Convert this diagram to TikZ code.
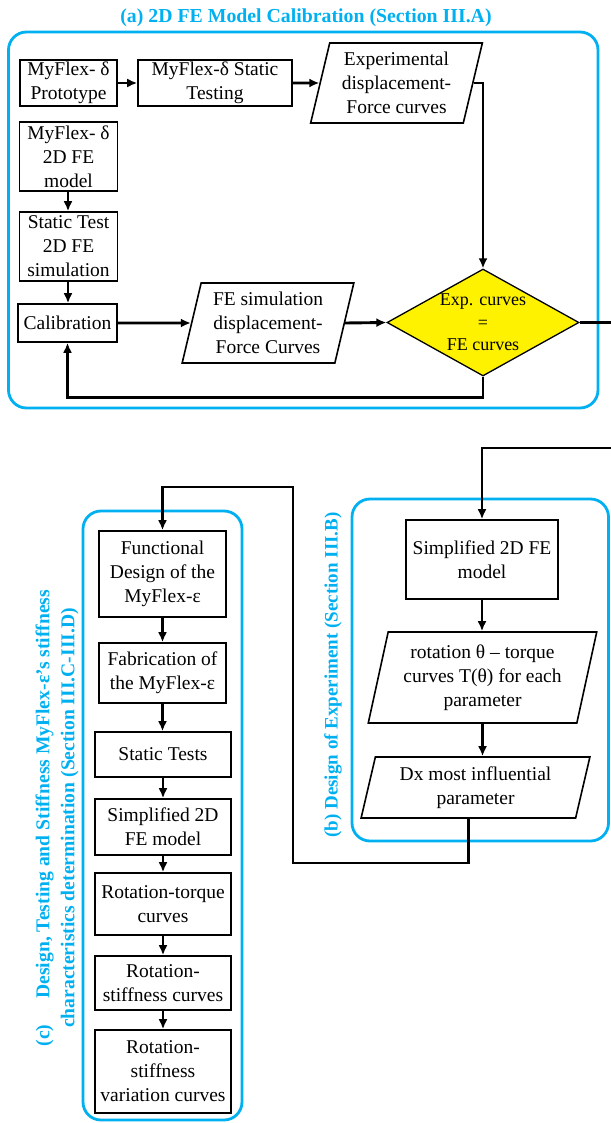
\documentclass[tikz,border=0pt]{standalone}
\usepackage{fontspec}
\setmainfont{Liberation Serif}
\usetikzlibrary{arrows.meta,shapes.geometric,positioning}
\tikzset{>={Latex[length=10pt,width=9pt]}}
\definecolor{secblue}{RGB}{0,176,240}
\newcommand{\boxfont}{\fontsize{19.5}{24}\selectfont}
\newcommand{\headfont}{\fontsize{19}{25}\selectfont\bfseries}
\tikzset{
  blk/.style={draw, line width=1.6pt, align=center, inner sep=1pt, font=\boxfont},
  io/.style={blk, trapezium, trapezium stretches=true, trapezium left angle=76, trapezium right angle=104},
  grp/.style={draw=secblue, line width=2.8pt, rounded corners=18pt},
  lbl/.style={text=secblue, align=center, font=\headfont},
  wire/.style={line width=2.9pt},
  conn/.style={wire, ->},
}

\begin{document}
\begin{tikzpicture}[x=1pt,y=-1pt]
\useasboundingbox (0,0) rectangle (610,1123);
% (a) 2D FE calibration
\draw[grp] (8.5,32) rectangle (598,408);
\node[lbl, font=\fontsize{19.8}{25}\selectfont\bfseries] (ttla) at (306,18) {(a) 2D FE Model Calibration (Section III.A)};
\node[blk, minimum width=97pt, minimum height=46pt] (proto) at (68.5,83) {MyFlex- δ\\Prototype};
\node[blk, minimum width=154pt, minimum height=46pt] (stest) at (215,83) {MyFlex-δ Static\\Testing};
\node[io, minimum width=172pt, minimum height=80pt] (exp) at (396.5,83) {Experimental\\displacement-\\Force curves};
\node[blk, minimum width=98pt, minimum height=69pt] (fem) at (68.5,156.5) {MyFlex- δ\\2D FE\\model};
\node[blk, minimum width=98pt, minimum height=69pt] (stsim) at (68.5,246.5) {Static Test\\2D FE\\simulation};
\node[blk, minimum width=99pt, minimum height=38pt] (calib) at (67.5,323) {Calibration};
\node[io, minimum width=172pt, minimum height=80pt] (fesim) at (268,323) {FE simulation\\displacement-\\Force Curves};
\node[draw, line width=1.3pt, diamond, fill=yellow, minimum width=192pt, minimum height=107pt, inner sep=0pt,
  label={[font=\fontsize{18}{22.5}\selectfont, align=center]center:Exp. curves\\=\\FE curves}] (dia) at (483,322.5) {};
\draw[conn] (proto) -- (stest);
\draw[conn] (stest) -- (exp);
\draw[conn] (exp.east) -| (dia.north);
\draw[conn] (fem.south -| 68,0) -- (stsim.north -| 68,0);
\draw[conn] (stsim.south -| 68,0) -- (calib.north -| 68,0);
\draw[conn] (calib.east) -- (fesim.west);
\draw[conn] (fesim.east) -- (dia.west);
\draw[conn] (dia.south) -- ++(0,21) -| (calib.south);
% out to (b)
\coordinate (aout) at (613,322.5);
\coordinate (bin) at (613,448);
\draw[wire] (dia.east) -- (aout);

% (b) design of experiment
\draw[grp] (352,499) rectangle (608.5,841);
\node[lbl, rotate=90] (ttlb) at (333,675) {(b) Design of Experiment (Section III.B)};
\node[blk, minimum width=152pt, minimum height=79pt] (simp) at (482,559.5) {Simplified 2D FE\\model};
\node[io, minimum width=229pt, minimum height=91pt] (rot) at (482.5,677.5) {rotation θ – torque\\curves T(θ) for each\\parameter};
\node[io, minimum width=229pt, minimum height=61pt] (dx) at (475.5,787.5) {Dx most influential\\parameter};
\draw[conn] (bin) -| (simp.north);
\draw[conn] (simp.south) -- (simp.south |- rot.north);
\draw[conn] (rot.south) -- (rot.south |- dx.north);
\coordinate (k1) at (293,863);
\coordinate (k2) at (293,487);

% (c) design, testing and stiffness
\draw[grp] (83,511) rectangle (242,1120);
\node[lbl, rotate=90, font=\fontsize{19.6}{25}\selectfont\bfseries] (ttlc) at (57,818) {(c)\hspace{26pt}Design, Testing and Stiffness MyFlex-ε's stiffness\\characteristics determination (Section III.C-III.D)};
\node[blk, minimum width=127pt, minimum height=86pt] (func) at (162.5,574) {Functional\\Design of the\\MyFlex-ε};
\node[blk, minimum width=127pt, minimum height=60pt] (fab) at (162.5,673) {Fabrication of\\the MyFlex-ε};
\node[blk, minimum width=136pt, minimum height=45pt] (stat) at (163,754.5) {Static Tests};
\node[blk, minimum width=136pt, minimum height=56pt] (simpc) at (163,827) {Simplified 2D\\FE model};
\node[blk, minimum width=136pt, minimum height=62pt] (rtor) at (163,904) {Rotation-torque\\curves};
\node[blk, minimum width=136pt, minimum height=54pt] (rstf) at (163,983) {Rotation-\\stiffness curves};
\node[blk, minimum width=136pt, minimum height=83pt] (rvar) at (163,1071.5) {Rotation-\\stiffness\\variation curves};
\draw[conn] ([xshift=-7pt]dx.south) |- (k1) -- (k2) -| (func.north);
\foreach \a/\b in {func/fab, fab/stat, stat/simpc, simpc/rtor, rtor/rstf, rstf/rvar}
  \draw[conn] (\a.south) -- (\a.south |- \b.north);
\end{tikzpicture}
\end{document}
